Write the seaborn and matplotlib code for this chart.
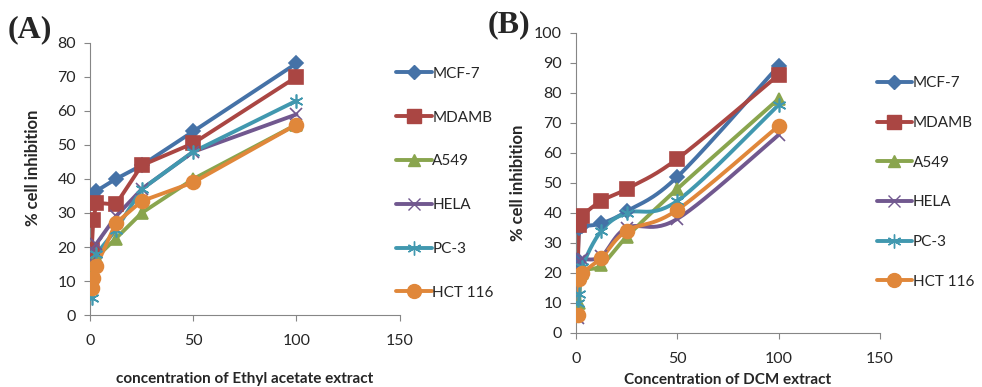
import numpy as np
import pandas as pd
import matplotlib
matplotlib.use('Agg')
import matplotlib.pyplot as plt
import seaborn as sns
from matplotlib.lines import Line2D

sns.set_style('ticks')
plt.rcParams['font.family'] = ['Lato', 'DejaVu Sans']

# concentrations (x) shared by both panels
conc = [0.78, 1.56, 3.125, 12.5, 25, 50, 100]
cell_lines = ['MCF-7', 'MDAMB', 'A549', 'HELA', 'PC-3', 'HCT 116']

# panel A : ethyl acetate extract
ea_mcf7 = [33, 35, 36.5, 40, 44, 54, 74]
ea_mdamb = [19, 28, 33, 32.5, 44, 50.5, 70]
ea_a549 = [10, 13, 17, 22.5, 30, 40, 56]
ea_hela = [16, 19, 21, 29, 37, 48, 59]
ea_pc3 = [5, 14, 18, 25, 37, 48, 63]
ea_hct116 = [8, 11, 14.5, 27, 33.5, 39, 56]

# panel B : DCM extract
dcm_mcf7 = [24, 35, 35.5, 36.5, 40.5, 52, 89]
dcm_mdamb = [19, 36, 39, 44, 48, 58, 86]
dcm_a549 = [8, 10, 20, 22.5, 32, 48, 78]
dcm_hela = [5, 24, 24.5, 25.5, 35, 38, 66]
dcm_pc3 = [10, 13, 22, 34, 40, 44, 76]
dcm_hct116 = [6, 18, 20, 25, 34, 41, 69]

colors = ['#4572A7', '#AA4643', '#89A54E', '#71588F', '#4198AF', '#E0873A']
markers = ['D', 's', '^', 'x', (6, 2, 0), 'o']
msizes = [7, 10, 9, 9, 10, 10]


def excel_smooth(x, y, n=30):
    # bezier curve through the points, like excel "smoothed line"
    P = np.column_stack([x, y]).astype(float)
    P = np.vstack([P[0], P, P[-1]])
    out = []
    for i in range(1, len(P) - 2):
        p0, p3 = P[i], P[i + 1]
        c1 = p0 + (P[i + 1] - P[i - 1]) / 6
        c2 = p3 - (P[i + 2] - P[i]) / 6
        t = np.linspace(0, 1, n)[:, None]
        seg = (1 - t) ** 3 * p0 + 3 * (1 - t) ** 2 * t * c1 + 3 * (1 - t) * t ** 2 * c2 + t ** 3 * p3
        out.append(seg)
    out = np.vstack(out)
    return out[:, 0], out[:, 1]


def draw_panel(ax, series, smooth, ymax, xlabel):
    for k, (name, vals) in enumerate(zip(cell_lines, series)):
        if smooth:
            sx, sy = excel_smooth(conc, vals)
        else:
            sx, sy = np.array(conc), np.array(vals)
        curve = pd.DataFrame({'x': sx, 'y': sy})
        sns.lineplot(data=curve, x='x', y='y', ax=ax, color=colors[k], lw=2.8,
                     sort=False, estimator=None, zorder=2 + k * 0.1)
        pts = pd.DataFrame({'x': conc, 'y': vals})
        ax.plot(pts['x'], pts['y'], ls='none', marker=markers[k], ms=msizes[k],
                color=colors[k], mec=colors[k], mew=1.2, zorder=3 + k * 0.1)
    ax.set_xlim(0, 150)
    ax.set_ylim(0, ymax)
    ax.set_xticks([0, 50, 100, 150])
    ax.set_yticks(np.arange(0, ymax + 1, 10))
    ax.set_xlabel(xlabel, fontsize=11, fontweight='bold')
    ax.set_ylabel('% cell inhibition', fontsize=12, fontweight='bold')
    ax.tick_params(labelsize=11.5, length=4, color='#868686', pad=6)
    ax.tick_params(axis='x', pad=10)
    for s in ['top', 'right']:
        ax.spines[s].set_visible(False)
    for s in ['left', 'bottom']:
        ax.spines[s].set_color('#868686')


fig = plt.figure(figsize=(9.82, 3.87), dpi=100)
axA = fig.add_axes([0.0917, 0.186, 0.3153, 0.703])
axB = fig.add_axes([0.5866, 0.140, 0.3094, 0.775])

draw_panel(axA, [ea_mcf7, ea_mdamb, ea_a549, ea_hela, ea_pc3, ea_hct116],
           False, 80, 'concentration of Ethyl acetate extract')
draw_panel(axB, [dcm_mcf7, dcm_mdamb, dcm_a549, dcm_hela, dcm_pc3, dcm_hct116],
           True, 100, 'Concentration of DCM extract')
axA.xaxis.set_label_coords(0.5, -0.21)
axB.xaxis.set_label_coords(0.5, -0.135)
axA.yaxis.set_label_coords(-0.16, 0.54)
axB.yaxis.set_label_coords(-0.165, 0.5)

handles = [Line2D([], [], color=colors[k], lw=2.8, marker=markers[k],
                  ms=msizes[k], mec=colors[k]) for k in range(6)]
axA.legend(handles, cell_lines, loc='upper left', bbox_to_anchor=(0.97, 0.935),
           frameon=False, fontsize=11, handlelength=2.3, handletextpad=0.05,
           labelspacing=1.95, borderaxespad=0)
axB.legend(handles, cell_lines, loc='upper left', bbox_to_anchor=(0.97, 0.875),
           frameon=False, fontsize=11, handlelength=2.3, handletextpad=0.05,
           labelspacing=1.68, borderaxespad=0)

fig.text(0.008, 0.922, '(A)', fontsize=23, fontweight='bold',
         family='Liberation Serif', va='center')
fig.text(0.497, 0.935, '(B)', fontsize=23, fontweight='bold',
         family='Liberation Serif', va='center')

plt.savefig('out.png', dpi=100)
